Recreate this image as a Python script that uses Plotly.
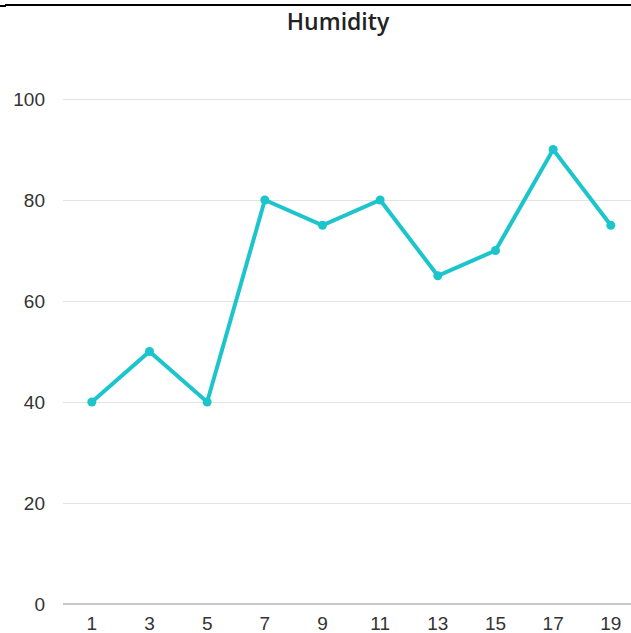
import plotly.graph_objects as go

# Humidity readings by sample index
days = [1, 3, 5, 7, 9, 11, 13, 15, 17, 19]
humidity = [40, 50, 40, 80, 75, 80, 65, 70, 90, 75]
x_ticks = days
y_ticks = [0, 20, 40, 60, 80, 100]

W, H = 631, 633
L, R, T, B = 63, 0, 94, 29
plot_w = W - L - R
plot_h = H - T - B

fig = go.Figure()
fig.add_trace(go.Scatter(
    x=days, y=humidity, mode="lines+markers",
    line=dict(color="#1cc5cb", width=4),
    marker=dict(color="#1cc5cb", size=9),
    hoverinfo="x+y", showlegend=False,
))

fig.update_layout(
    width=W, height=H,
    margin=dict(l=L, r=R, t=T, b=B),
    paper_bgcolor="white", plot_bgcolor="white",
    title=dict(text="Humidity", x=338 / W, xanchor="center", xref="container",
               y=1 - 22 / H, yanchor="middle", yref="container",
               font=dict(family="Open Sans", size=23, color="#222222", weight=600)),
    xaxis=dict(range=[0, 19.7], tickvals=x_ticks, ticktext=[str(v) for v in x_ticks],
               showgrid=False, zeroline=False, showline=False, ticks="",
               ticklabelstandoff=6,
               tickfont=dict(family="Liberation Sans", size=19, color="#333333")),
    yaxis=dict(range=[0, 101], tickvals=y_ticks, showgrid=True, gridcolor="#e3e3e3",
               gridwidth=1, zeroline=True, zerolinecolor="#c8c8c8", zerolinewidth=2,
               showline=False, ticks="", ticklabelstandoff=17,
               tickfont=dict(family="Liberation Sans", size=19, color="#333333")),
    shapes=[
        dict(type="line", xref="paper", yref="paper",
             x0=(5 - L) / plot_w, x1=1.0,
             y0=(H - B - 5) / plot_h, y1=(H - B - 5) / plot_h,
             line=dict(color="black", width=2)),
        dict(type="line", xref="paper", yref="paper",
             x0=(0 - L) / plot_w, x1=(6 - L) / plot_w,
             y0=(H - B - 6) / plot_h, y1=(H - B - 6) / plot_h,
             line=dict(color="black", width=2)),
    ],
)

fig.write_html("out.html", config={"displayModeBar": False})
